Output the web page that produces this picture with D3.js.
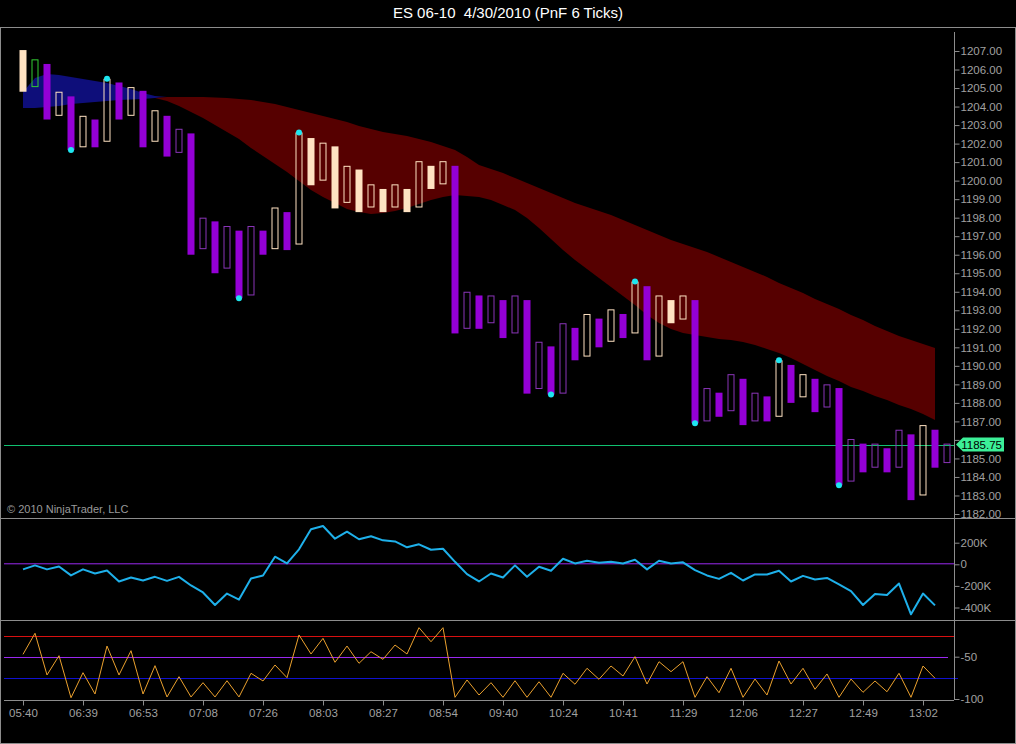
<!DOCTYPE html>
<html>
<head>
<meta charset="utf-8">
<script src="https://cdn.jsdelivr.net/npm/d3@7"></script>
<style>
  body { margin: 0; background: #000; }
  svg { display: block; font-family: "Liberation Sans", Arial, sans-serif; }
  .tick text { fill: #a0a0a0; font-size: 11.5px; }
  .tick line { stroke: #8c8c8c; }
</style>
</head>
<body>
<svg id="chart" width="1016" height="744"></svg>
<script>
// Time labels under every fifth brick
var timeLabels = ['05:40', '06:39', '06:53', '07:08', '07:26', '08:03', '08:27', '08:54',
  '09:40', '10:24', '10:41', '11:29', '12:06', '12:27', '12:49', '13:02'];

// PnF brick tops / bottoms (price)
var barTop = [1207.05, 1206.55, 1206.30, 1204.80, 1204.55, 1203.50, 1203.30, 1205.50, 1205.30, 1205.05,
  1204.85, 1203.80, 1203.50, 1202.80, 1202.55, 1198.00, 1197.80, 1197.55, 1197.30, 1197.55,
  1197.30, 1198.55, 1198.30, 1202.60, 1202.30, 1202.05, 1201.85, 1200.80, 1200.60, 1199.80,
  1199.55, 1199.80, 1199.55, 1201.05, 1200.80, 1201.05, 1200.80, 1194.00, 1193.80, 1193.80,
  1193.55, 1193.80, 1193.55, 1191.30, 1191.05, 1192.30, 1192.05, 1192.80, 1192.55, 1193.05,
  1192.80, 1194.55, 1194.30, 1193.80, 1193.55, 1193.80, 1193.55, 1188.80, 1188.55, 1189.55,
  1189.30, 1188.55, 1188.35, 1190.30, 1190.05, 1189.55, 1189.30, 1189.00, 1188.80, 1186.05,
  1185.80, 1185.80, 1185.55, 1186.55, 1186.30, 1186.80, 1186.55, 1185.80];
var barBottom = [1204.80, 1205.05, 1203.30, 1203.50, 1201.65, 1201.80, 1201.80, 1202.10, 1203.30, 1203.50,
  1201.80, 1202.10, 1201.30, 1201.50, 1196.00, 1196.30, 1195.00, 1195.25, 1193.65, 1193.80,
  1196.00, 1196.30, 1196.25, 1196.55, 1199.75, 1200.00, 1198.50, 1198.80, 1198.30, 1198.55,
  1198.30, 1198.55, 1198.30, 1198.55, 1199.55, 1199.80, 1191.75, 1192.00, 1192.00, 1192.30,
  1191.50, 1191.75, 1188.50, 1188.75, 1188.45, 1188.50, 1190.30, 1190.50, 1191.00, 1191.30,
  1191.50, 1191.75, 1190.30, 1190.50, 1192.30, 1192.50, 1186.90, 1187.00, 1187.25, 1187.55,
  1186.80, 1187.00, 1187.00, 1187.25, 1188.00, 1188.30, 1187.50, 1187.75, 1183.55, 1183.75,
  1184.25, 1184.50, 1184.25, 1184.50, 1182.75, 1183.00, 1184.50, 1184.75];
// F = filled up, T = hollow up, P = filled down, H = hollow down, G = first hollow (green)
var barKind = ('FGPTPTPTPT' + 'PTPHPHPHPH' + 'PTPTFTFTFT' + 'FTFTFTPHPH' +
  'PHPHPHPTPT' + 'PTPTFTPHPH' + 'PHPTPTPHPH' + 'PHPHPTPH').split('');

var swingHighs = [7, 23, 51, 63];
var swingLows = [4, 18, 44, 56, 68];

// Moving-average ribbon (price)
var fastMA = [1204.79, 1205.54, 1205.76, 1205.70, 1205.60, 1205.49, 1205.38, 1205.27, 1205.11, 1204.95,
  1204.73, 1204.57, 1204.30, 1204.03, 1203.71, 1203.38, 1203.00, 1202.63, 1202.25, 1201.76,
  1201.33, 1200.90, 1200.47, 1199.98, 1199.49, 1199.12, 1198.79, 1198.47, 1198.31, 1198.20,
  1198.25, 1198.36, 1198.52, 1198.74, 1198.95, 1199.12, 1199.22, 1199.17, 1199.12, 1198.95,
  1198.69, 1198.41, 1197.98, 1197.44, 1196.85, 1196.25, 1195.72, 1195.23, 1194.74, 1194.26,
  1193.77, 1193.29, 1192.75, 1192.31, 1191.99, 1191.77, 1191.67, 1191.56, 1191.45, 1191.40,
  1191.29, 1191.13, 1190.91, 1190.69, 1190.42, 1190.10, 1189.78, 1189.45, 1189.18, 1188.86,
  1188.64, 1188.37, 1188.16, 1187.89, 1187.67, 1187.40, 1187.08];
var slowMA = [1203.92, 1203.92, 1203.98, 1204.03, 1204.14, 1204.19, 1204.25, 1204.30, 1204.35, 1204.38,
  1204.41, 1204.46, 1204.52, 1204.52, 1204.52, 1204.52, 1204.49, 1204.46, 1204.41, 1204.35,
  1204.25, 1204.14, 1203.98, 1203.81, 1203.65, 1203.49, 1203.33, 1203.17, 1202.95, 1202.79,
  1202.63, 1202.52, 1202.41, 1202.25, 1202.09, 1201.87, 1201.65, 1201.28, 1200.84, 1200.63,
  1200.41, 1200.14, 1199.87, 1199.60, 1199.33, 1199.06, 1198.79, 1198.58, 1198.36, 1198.15,
  1197.88, 1197.61, 1197.34, 1197.07, 1196.80, 1196.58, 1196.36, 1196.15, 1195.88, 1195.61,
  1195.34, 1195.07, 1194.80, 1194.47, 1194.20, 1193.93, 1193.61, 1193.34, 1193.07, 1192.75,
  1192.48, 1192.15, 1191.88, 1191.61, 1191.40, 1191.18, 1190.96];

var lastPrice = 1185.75;
var priceTicks = d3.range(1182, 1208);

// Second panel (thousands)
var deltaK = [-47, -10, -47, -20, -103, -47, -85, -57, -159, -122,
  -150, -116, -153, -116, -196, -261, -377, -271, -327, -131,
  -103, 70, 8, 139, 325, 355, 237, 302, 232, 260,
  222, 212, 157, 185, 135, 144, 23, -91, -159, -85,
  -122, -10, -116, -23, -60, 51, 8, 33, 14, 23,
  8, 42, -47, 33, 8, 18, -54, -103, -135, -79,
  -150, -94, -94, -60, -159, -107, -140, -126, -187, -249,
  -377, -274, -284, -178, -463, -271, -380];
var deltaTicks = [200, 0, -200, -400];

// Third panel oscillator
var oscValues = [-47.2, -22.3, -71.6, -48.8, -98.5, -68.9, -94.1, -37.4, -71.6, -42.9,
  -94.1, -60.6, -97.6, -73.6, -97.6, -80.7, -97.6, -78.4, -97.6, -69.6,
  -78.7, -59.8, -74.8, -24.3, -46.8, -28.3, -56.6, -37.4, -57.8, -44.1,
  -53.1, -36.2, -46.8, -15.7, -32.3, -15.7, -98.0, -77.5, -95.3, -80.7,
  -98.0, -78.4, -98.0, -79.6, -98.0, -69.6, -82.6, -63.7, -76.7, -61.0,
  -72.8, -50.0, -82.3, -55.9, -67.7, -55.9, -98.0, -73.6, -92.6, -63.7,
  -98.0, -76.4, -95.3, -55.1, -82.3, -63.7, -88.5, -70.4, -98.0, -76.4,
  -92.1, -78.7, -91.4, -69.6, -98.0, -61.0, -75.5];
var oscLevels = [{v: -25, color: '#d81010', end: 954},
  {v: -50, color: '#9a28f0', end: 948},
  {v: -75, color: '#1010d0', end: 958}];
var oscTicks = [-50, -100];

var svg = d3.select('#chart');
var axisX = 954;

var x = d3.scaleLinear().domain([0, barTop.length - 1]).range([23, 947]);
var yP = d3.scaleLinear().domain([1182, 1207]).range([514, 51]);
var yD = d3.scaleLinear().domain([-400, 200]).range([607.5, 542.7]);
var yO = d3.scaleLinear().domain([-100, -50]).range([699, 656.7]);

var gray = '#8c8c8c';

// Frame and panel separators
svg.append('rect').attr('x', 0.5).attr('y', 27.5).attr('width', 1015).attr('height', 716)
  .attr('fill', 'none').attr('stroke', gray);
[518.5, 620.5].forEach(function(yy) {
  svg.append('line').attr('x1', 0).attr('x2', 1016).attr('y1', yy).attr('y2', yy)
    .attr('stroke', gray);
});

// Title
svg.append('text').attr('x', 508).attr('y', 18).attr('text-anchor', 'middle')
  .attr('fill', '#fff').style('font-size', '15px').style('white-space', 'pre')
  .text('ES 06-10  4/30/2010 (PnF 6 Ticks)');

// Ribbon: blue where fast is above slow, dark red where below
var blueArea = d3.area()
  .defined(function(d, i) { return i <= 12; })
  .x(function(d, i) { return x(i); })
  .y0(function(d, i) { return yP(slowMA[i]); })
  .y1(function(d, i) { return yP(Math.max(fastMA[i], slowMA[i])); });
var redArea = d3.area()
  .defined(function(d, i) { return i >= 11; })
  .x(function(d, i) { return x(i); })
  .y0(function(d, i) { return yP(slowMA[i]); })
  .y1(function(d, i) { return yP(Math.min(fastMA[i], slowMA[i])); });

svg.append('path').attr('d', blueArea(fastMA)).attr('fill', '#0e0e7a');
svg.append('path').attr('d', redArea(fastMA)).attr('fill', '#560000');

// Last price line
var lastY = Math.round(yP(lastPrice)) + 0.5;
svg.append('line').attr('x1', 4).attr('x2', axisX)
  .attr('y1', lastY).attr('y2', lastY)
  .attr('stroke', '#10c070');

// Bricks
var kindStyle = {
  F: {fill: '#ffe2c2', stroke: null},
  P: {fill: '#9400d6', stroke: null},
  T: {fill: 'none', stroke: '#ffe2c2'},
  H: {fill: 'none', stroke: '#8a35b8'},
  G: {fill: 'none', stroke: '#32cd32'}
};

svg.append('g').selectAll('rect')
  .data(barKind)
  .enter().append('rect')
  .attr('x', function(d, i) { return kindStyle[d].stroke ? x(i) - 3 : x(i) - 3.5; })
  .attr('width', function(d) { return kindStyle[d].stroke ? 6 : 7; })
  .attr('y', function(d, i) { return yP(barTop[i]) + (kindStyle[d].stroke ? 0.5 : 0); })
  .attr('height', function(d, i) {
    return yP(barBottom[i]) - yP(barTop[i]) - (kindStyle[d].stroke ? 1 : 0);
  })
  .attr('fill', function(d) { return kindStyle[d].fill; })
  .attr('stroke', function(d) { return kindStyle[d].stroke; })
  .attr('stroke-width', 1);

// Swing points
svg.append('g').selectAll('circle')
  .data(swingHighs.map(function(i) { return {i: i, p: barTop[i]}; })
    .concat(swingLows.map(function(i) { return {i: i, p: barBottom[i]}; })))
  .enter().append('circle')
  .attr('cx', function(d) { return x(d.i); })
  .attr('cy', function(d) { return yP(d.p); })
  .attr('r', 3)
  .attr('fill', '#1ee6f0');

svg.append('text').attr('x', 7).attr('y', 513).attr('fill', '#9a9a9a')
  .style('font-size', '11px').text('\u00a9 2010 NinjaTrader, LLC');

// Second panel
svg.append('line').attr('x1', 4).attr('x2', axisX).attr('y1', yD(0) - 0.5).attr('y2', yD(0) - 0.5)
  .attr('stroke', '#9a28f0');
var deltaLine = d3.line()
  .x(function(d, i) { return x(i); })
  .y(function(d) { return yD(d); });
svg.append('path').attr('d', deltaLine(deltaK)).attr('fill', 'none')
  .attr('stroke', '#1eb0ea').attr('stroke-width', 2).attr('stroke-linejoin', 'round');

// Third panel
oscLevels.forEach(function(l) {
  svg.append('line').attr('x1', 4).attr('x2', l.end)
    .attr('y1', Math.round(yO(l.v)) + 0.5).attr('y2', Math.round(yO(l.v)) + 0.5)
    .attr('stroke', l.color);
});
var oscLine = d3.line()
  .x(function(d, i) { return x(i); })
  .y(function(d) { return yO(d); });
svg.append('path').attr('d', oscLine(oscValues)).attr('fill', 'none')
  .attr('stroke', '#eba12e').attr('stroke-width', 1);

// Axes
svg.append('line').attr('x1', axisX + 0.5).attr('x2', axisX + 0.5).attr('y1', 32).attr('y2', 700)
  .attr('stroke', gray);
svg.append('line').attr('x1', 4).attr('x2', axisX).attr('y1', 700.5).attr('y2', 700.5)
  .attr('stroke', gray);

function rightAxis(scale, ticks, fmt) {
  var g = svg.append('g').attr('transform', 'translate(' + (axisX + 0.5) + ',0)')
    .call(d3.axisRight(scale).tickValues(ticks).tickFormat(fmt).tickSize(5).tickPadding(1));
  g.select('.domain').remove();
  return g;
}
// the price tag hides the tick label it sits on
var priceAxis = rightAxis(yP, priceTicks, function(d) { return d.toFixed(2); });
priceAxis.selectAll('.tick text')
  .filter(function(d) { return Math.abs(yP(d) - yP(lastPrice)) < 10; })
  .remove();
rightAxis(yD, deltaTicks, function(d) { return d === 0 ? '0' : d + 'K'; });
rightAxis(yO, oscTicks, function(d) { return String(d); });

var xAxis = svg.append('g').attr('transform', 'translate(0,700.5)')
  .call(d3.axisBottom(x)
    .tickValues(timeLabels.map(function(d, k) { return k * 5; }))
    .tickFormat(function(i) { return timeLabels[i / 5]; })
    .tickSize(5).tickPadding(3));
xAxis.select('.domain').remove();

// Last price tag
var tagY = yP(lastPrice);
svg.append('path')
  .attr('d', 'M' + (axisX + 2) + ',' + tagY + 'L' + (axisX + 9) + ',' + (tagY - 7) +
    'H1004V' + (tagY + 7) + 'H' + (axisX + 9) + 'Z')
  .attr('fill', '#3cf098');
svg.append('text').attr('x', 1002).attr('y', tagY + 4).attr('text-anchor', 'end')
  .attr('fill', '#000').style('font-size', '11.5px').text(lastPrice.toFixed(2));
</script>
</body>
</html>
